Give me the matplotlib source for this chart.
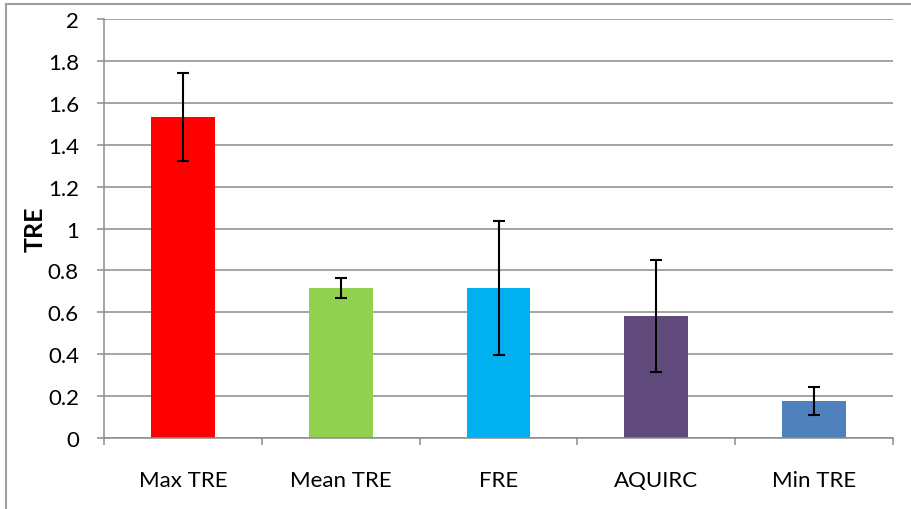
import numpy as np
import matplotlib.pyplot as plt
from matplotlib.lines import Line2D

# データ
categories = ['Max TRE', 'Mean TRE', 'FRE', 'AQUIRC', 'Min TRE']
values = [1.532, 0.716, 0.716, 0.582, 0.177]
errors = [0.212, 0.05, 0.321, 0.267, 0.067]
colors = ['#FF0000', '#92D050', '#00B0F0', '#604A7B', '#4F81BD']

plt.rcParams['font.family'] = ['Lato', 'DejaVu Sans']

fig = plt.figure(figsize=(9.11, 5.10), dpi=100)
ax = fig.add_axes([104 / 911, 1 - 439 / 510, (893 - 104) / 911, (439 - 20) / 510])

x = np.arange(len(categories))
ax.bar(x, values, width=0.405, color=colors, zorder=2)
ax.errorbar(x, values, yerr=errors, fmt='none', ecolor='black',
            elinewidth=1.5, capsize=4.3, capthick=1.5, zorder=3)

# 軸の設定
ax.set_xlim(-0.5, len(categories) - 0.5)
ax.set_ylim(0, 2)
ax.set_yticks(np.arange(0, 2.01, 0.2))
ax.set_yticklabels(['0', '0.2', '0.4', '0.6', '0.8', '1', '1.2', '1.4', '1.6', '1.8', '2'])
ax.set_xticks(np.arange(-0.5, len(categories), 1.0))
ax.set_xticklabels([])
ax.set_xticks(x, minor=True)
ax.set_xticklabels(categories, minor=True)

gray = '#8C8C8C'
ax.grid(axis='y', color=gray, linewidth=1.1, zorder=0)
ax.set_axisbelow(True)
for s in ['top', 'right']:
    ax.spines[s].set_visible(False)
for s in ['left', 'bottom']:
    ax.spines[s].set_color(gray)
    ax.spines[s].set_linewidth(1.1)

ax.tick_params(axis='y', which='major', length=5, color=gray, width=1.1,
               labelsize=16, pad=13)
ax.tick_params(axis='x', which='major', length=5, color=gray, width=1.1)
ax.tick_params(axis='x', which='minor', length=0, labelsize=16, pad=23)

ax.set_ylabel('TRE', fontsize=18, fontweight='bold', labelpad=1)

# 外枠
fig.add_artist(Line2D([5.5 / 911, 5.5 / 911], [0, 1 - 4.5 / 510],
                      transform=fig.transFigure, color='#A0A0A0', linewidth=1.5))
fig.add_artist(Line2D([5.5 / 911, 1], [1 - 4.5 / 510, 1 - 4.5 / 510],
                      transform=fig.transFigure, color='#A0A0A0', linewidth=1.5))

fig.savefig('out.png', dpi=100)
